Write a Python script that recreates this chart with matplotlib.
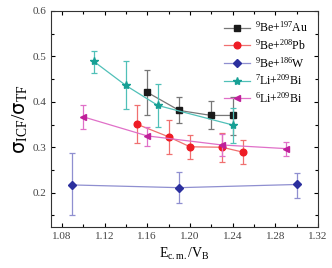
import matplotlib
matplotlib.use("Agg")
import matplotlib.pyplot as plt
from matplotlib.ticker import MultipleLocator

plt.rcParams['font.family'] = ['Liberation Serif', 'DejaVu Serif']
plt.rcParams['mathtext.fontset'] = 'custom'
plt.rcParams['mathtext.rm'] = 'Liberation Serif'
plt.rcParams['mathtext.it'] = 'Liberation Serif:italic'

# 9Be+197Au
au_x = [1.16, 1.19, 1.22, 1.24]
au_y = [0.421, 0.381, 0.370, 0.370]
au_lo = [0.050, 0.028, 0.029, 0.044]
au_hi = [0.049, 0.029, 0.031, 0.040]

# 9Be+208Pb
pb_x = [1.15, 1.18, 1.20, 1.23, 1.25]
pb_y = [0.351, 0.323, 0.301, 0.300, 0.289]
pb_lo = [0.041, 0.038, 0.026, 0.032, 0.026]
pb_hi = [0.043, 0.036, 0.025, 0.031, 0.027]

# 9Be+186W
w_x = [1.09, 1.19, 1.30]
w_y = [0.217, 0.211, 0.218]
w_lo = [0.067, 0.033, 0.029]
w_hi = [0.070, 0.035, 0.026]

# 7Li+209Bi
li7_x = [1.11, 1.14, 1.17, 1.24]
li7_y = [0.489, 0.436, 0.392, 0.349]
li7_lo = [0.026, 0.052, 0.048, 0.039]
li7_hi = [0.023, 0.054, 0.047, 0.038]

# 6Li+209Bi
li6_x = [1.10, 1.16, 1.23, 1.29]
li6_y = [0.367, 0.325, 0.305, 0.297]
li6_lo = [0.027, 0.022, 0.024, 0.016]
li6_hi = [0.025, 0.019, 0.025, 0.015]

fig = plt.figure(figsize=(3.32, 2.68), dpi=100)
ax = fig.add_axes([0.154, 0.154, 0.804, 0.805])

series = [
    (au_x, au_y, au_lo, au_hi, 's', '#1a1a1a', '#777777', 4.3, r'$^{9}$Be+$^{197}$Au'),
    (pb_x, pb_y, pb_lo, pb_hi, 'o', '#ee1c25', '#f07070', 4.8, r'$^{9}$Be+$^{208}$Pb'),
    (w_x, w_y, w_lo, w_hi, 'D', '#2b2f9e', '#8f8fd0', 3.8, r'$^{9}$Be+$^{186}$W'),
    (li7_x, li7_y, li7_lo, li7_hi, '*', '#17a095', '#50c0b8', 6, r'$^{7}$Li+$^{209}$Bi'),
    (li6_x, li6_y, li6_lo, li6_hi, '<', '#c0209a', '#e070c8', 4.8, r'$^{6}$Li+$^{209}$Bi'),
]

for x, y, lo, hi, mk, c, lc, ms, lab in series:
    ax.errorbar(x, y, yerr=[lo, hi], fmt='none', ecolor=lc, elinewidth=0.9,
                capsize=2, capthick=0.9)
    ax.plot(x, y, '-', color=lc, lw=0.9, marker=mk, mfc=c, mec=c, ms=ms,
            label=lab)

ax.set_xlim(1.07, 1.32)
ax.set_ylim(0.125, 0.6)
ax.xaxis.set_major_locator(MultipleLocator(0.04))
ax.xaxis.set_minor_locator(MultipleLocator(0.02))
ax.yaxis.set_major_locator(MultipleLocator(0.1))
ax.yaxis.set_minor_locator(MultipleLocator(0.05))
ax.tick_params(which='both', direction='in', top=True, right=True,
               labelsize=8, labelcolor='#444444', width=0.8)
ax.tick_params(which='major', length=3)
ax.tick_params(which='minor', length=2.5)
ax.set_xticklabels(['%.2f' % v for v in ax.get_xticks()])
ax.set_yticklabels(['%.1f' % v for v in ax.get_yticks()])
for s in ax.spines.values():
    s.set_linewidth(0.8)
    s.set_color('#333333')

ax.set_xlabel(r'E$_{\mathrm{c.m.}}$/V$_{\mathrm{B}}$', fontsize=10, labelpad=4)
ax.set_ylabel(r'$\mathsf{\sigma}_{\mathrm{ICF}}$/$\mathsf{\sigma}_{\mathrm{TF}}$',
              fontsize=14, labelpad=2)

ax.legend(loc='upper right', frameon=False, fontsize=8.5, handlelength=2.2,
          borderaxespad=0.4, labelspacing=0.25, handletextpad=0.5)

fig.savefig('out.png', dpi=100)
